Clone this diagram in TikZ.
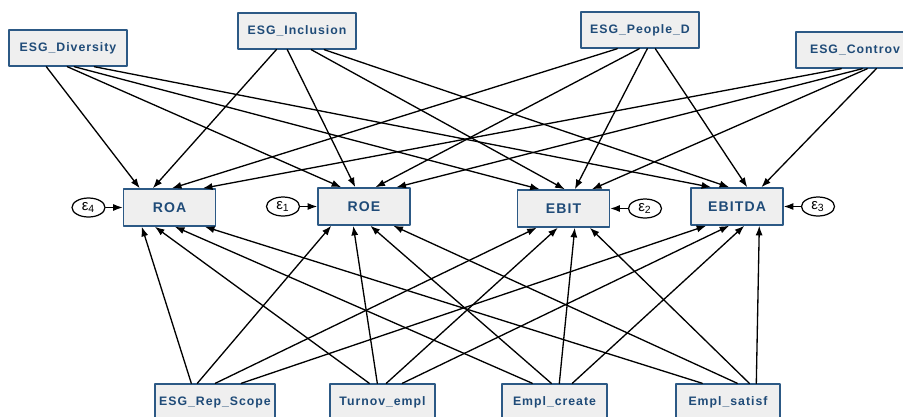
\documentclass[tikz,border=0pt]{standalone}
\usepackage{fontspec}
\setmainfont{Liberation Sans}[LetterSpace=8]
\usetikzlibrary{arrows.meta,calc,shapes.geometric}
\definecolor{semblue}{HTML}{2C5985}
\definecolor{semtext}{HTML}{1F4B78}
\definecolor{semfill}{HTML}{EFEFEF}
\tikzset{
  var/.style={draw=semblue,line width=0.8pt,fill=semfill,text=semtext,font=\fontsize{7}{8}\selectfont\bfseries,inner sep=0pt,minimum height=0.72cm},
  outc/.style={var,font=\fontsize{8}{9}\selectfont\bfseries,minimum width=1.84cm,minimum height=0.74cm},
  err/.style={draw,ellipse,line width=0.7pt,minimum width=0.66cm,minimum height=0.38cm,inner sep=0pt,font=\fontsize{8.5}{9}\selectfont},
  semarrow/.style={-{Latex[length=5.5pt,width=4pt]},line width=0.75pt}
}
\begin{document}
\begin{tikzpicture}[x=0.02cm,y=-0.02cm,line cap=round,line join=round]
  \useasboundingbox (0,0) rectangle (903,416);
  \clip (0,0) rectangle (903,416);
  % exogenous, top row
  \node[var,minimum width=2.36cm] (div) at (68,48) {ESG\_Diversity};
  \node[var,minimum width=2.36cm] (inc) at (297,31) {ESG\_Inclusion};
  \node[var,minimum width=2.36cm] (ppl) at (640,30) {ESG\_People\_D};
  \node[var,minimum width=2.36cm] (con) at (855,50) {ESG\_Controv};
  % outcomes
  \node[outc] (roa) at (169.5,207.5) {ROA};
  \node[outc] (roe) at (364,206.5) {ROE};
  \node[outc] (ebit) at (563.5,208.5) {EBIT};
  \node[outc] (ebitda) at (737,206.5) {EBITDA};
  % errors
  \node[err] (e4) at (88.5,207.5) {ε\textsubscript{4}};
  \node[err] (e1) at (283,206.5) {ε\textsubscript{1}};
  \node[err] (e2) at (645,208.5) {ε\textsubscript{2}};
  \node[err] (e3) at (818,206.5) {ε\textsubscript{3}};
  % exogenous, bottom row
  \node[var,minimum width=2.4cm] (rep) at (215,402) {ESG\_Rep\_Scope};
  \node[var,minimum width=2.1cm] (tur) at (382.5,402) {Turnov\_empl};
  \node[var,minimum width=2.1cm] (cre) at (554.5,402) {Empl\_create};
  \node[var,minimum width=2.08cm] (sat) at (728,402) {Empl\_satisf};
  % error terms
  \draw[semarrow] (e4) -- (roa);
  \draw[semarrow] (e1) -- (roe);
  \draw[semarrow] (e2) -- (ebit);
  \draw[semarrow] (e3) -- (ebitda);
  % paths from the top row
  \draw[semarrow] ($(div.south west)+(38,0)$) -- ($(roa.north west)+(17,0)$);
  \draw[semarrow] ($(div.south west)+(59,0)$) -- ($(roe.north west)+(24,0)$);
  \draw[semarrow] ($(div.south west)+(66,0)$) -- ($(ebit.north west)+(23,0)$);
  \draw[semarrow] ($(div.south west)+(86,0)$) -- ($(ebitda.north west)+(21,0)$);
  \draw[semarrow] ($(inc.south west)+(39,0)$) -- ($(roa.north west)+(30,0)$);
  \draw[semarrow] ($(inc.south west)+(50,0)$) -- ($(roe.north west)+(38,0)$);
  \draw[semarrow] ($(inc.south west)+(74,0)$) -- ($(ebit.north west)+(48,0)$);
  \draw[semarrow] ($(inc.south west)+(87,0)$) -- ($(ebitda.north west)+(39,0)$);
  \draw[semarrow] ($(ppl.south west)+(37,0)$) -- ($(roa.north west)+(49,0)$);
  \draw[semarrow] ($(ppl.south west)+(59,0)$) -- ($(roe.north west)+(58,0)$);
  \draw[semarrow] ($(ppl.south west)+(67,0)$) -- ($(ebit.north west)+(58,0)$);
  \draw[semarrow] ($(ppl.south west)+(75,0)$) -- ($(ebitda.north west)+(57,0)$);
  \draw[semarrow] ($(con.south west)+(46,0)$) -- ($(roa.north west)+(80,0)$);
  \draw[semarrow] ($(con.south west)+(67,0)$) -- ($(roe.north west)+(79,0)$);
  \draw[semarrow] ($(con.south west)+(72,0)$) -- ($(ebit.north west)+(75,0)$);
  \draw[semarrow] ($(con.south west)+(81,0)$) -- ($(ebitda.north west)+(71,0)$);
  % paths from the bottom row
  \draw[semarrow] ($(rep.north west)+(37,0)$) -- ($(roa.south west)+(19,0)$);
  \draw[semarrow] ($(rep.north west)+(43,0)$) -- ($(roe.south west)+(14,0)$);
  \draw[semarrow] ($(rep.north west)+(61,0)$) -- ($(ebit.south west)+(20,0)$);
  \draw[semarrow] ($(rep.north west)+(87,0)$) -- ($(ebitda.south west)+(16,0)$);
  \draw[semarrow] ($(tur.north west)+(40,0)$) -- ($(roa.south west)+(32,0)$);
  \draw[semarrow] ($(tur.north west)+(48,0)$) -- ($(roe.south west)+(36,0)$);
  \draw[semarrow] ($(tur.north west)+(57,0)$) -- ($(ebit.south west)+(41,0)$);
  \draw[semarrow] ($(tur.north west)+(73,0)$) -- ($(ebitda.south west)+(39,0)$);
  \draw[semarrow] ($(cre.north west)+(31,0)$) -- ($(roa.south west)+(52,0)$);
  \draw[semarrow] ($(cre.north west)+(50,0)$) -- ($(roe.south west)+(53,0)$);
  \draw[semarrow] ($(cre.north west)+(58,0)$) -- ($(ebit.south west)+(58,0)$);
  \draw[semarrow] ($(cre.north west)+(71,0)$) -- ($(ebitda.south west)+(54,0)$);
  \draw[semarrow] ($(sat.north west)+(27,0)$) -- ($(roa.south west)+(82,0)$);
  \draw[semarrow] ($(sat.north west)+(62,0)$) -- ($(roe.south west)+(76,0)$);
  \draw[semarrow] ($(sat.north west)+(74,0)$) -- ($(ebit.south west)+(73,0)$);
  \draw[semarrow] ($(sat.north west)+(81,0)$) -- ($(ebitda.south west)+(69,0)$);
\end{tikzpicture}
\end{document}
